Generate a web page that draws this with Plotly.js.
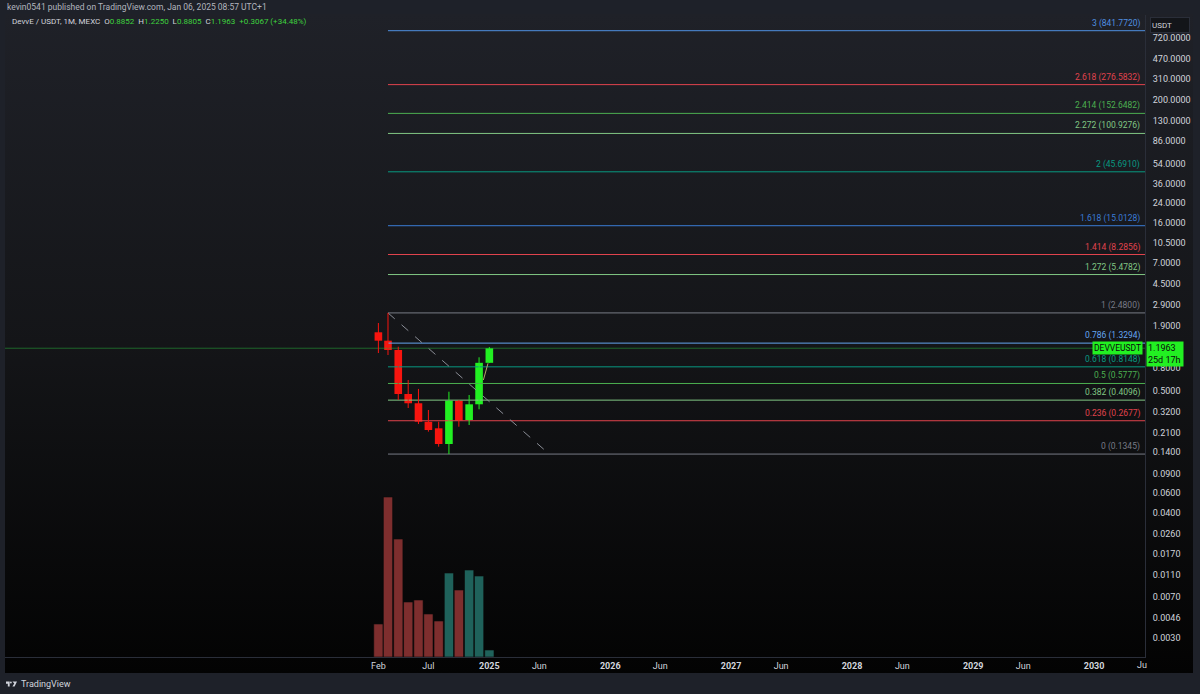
<!DOCTYPE html>
<html>
<head>
<meta charset="utf-8">
<script src="https://cdn.plot.ly/plotly-3.0.1.min.js"></script>
<style>html,body{margin:0;padding:0;background:#1e2129;}#chart{width:1200px;height:694px;}</style>
</head>
<body>
<div id="chart"></div>
<script>
// ---- data ----
const months = ['2024-02-01','2024-03-01','2024-04-01','2024-05-01','2024-06-01','2024-07-01','2024-08-01','2024-09-01','2024-10-01','2024-11-01','2024-12-01','2025-01-01'];
const openP  = [1.663, 1.398, 1.153, 0.465, 0.384, 0.262, 0.229, 0.1656, 0.405, 0.2718, 0.376, 0.8852];
const highP  = [2.014, 2.480, 1.235, 0.621, 0.516, 0.334, 0.2624, 0.4875, 0.411, 0.4554, 0.992, 1.2250];
const lowP   = [1.084, 1.040, 0.411, 0.348, 0.2503, 0.2136, 0.1566, 0.1345, 0.2367, 0.245, 0.339, 0.8805];
const closeP = [1.398, 1.153, 0.465, 0.384, 0.2624, 0.2212, 0.1656, 0.405, 0.268, 0.3758, 0.8852, 1.1963];
const volume = [33, 160, 118, 55, 57, 43, 36, 84, 67, 87, 81, 7];

const fibRatios = [3, 2.618, 2.414, 2.272, 2, 1.618, 1.414, 1.272, 1, 0.786, 0.618, 0.5, 0.382, 0.236, 0];
const fibPrices = [841.7720, 276.5832, 152.6482, 100.9276, 45.6910, 15.0128, 8.2856, 5.4782, 2.4800, 1.3294, 0.8148, 0.5777, 0.4096, 0.2677, 0.1345];
const fibColors = ['#4f8fe0','#e0434d','#4caf50','#81c784','#089981','#3a7bd5','#e0434d','#81c784','#787b86','#64a5f0','#089981','#4caf50','#81c784','#e0434d','#787b86'];
const fibStart = '2024-03-01';

const trendX = ['2024-03-01','2025-07-01'];
const trendY = [2.4800, 0.1345];
const smallLineX = ['2024-12-14','2024-12-28'];
const smallLineY = [0.621, 0.876];

const lastPrice = 1.1963;
const xRange = ['2020-12-30 14:00','2030-06-03 17:00'];
const yTickVals = [720,470,310,200,130,86,54,36,24,16,10.5,7,4.5,2.9,1.9,0.8,0.5,0.32,0.21,0.14,0.09,0.06,0.04,0.026,0.017,0.011,0.007,0.0046,0.003];
const yTickText = yTickVals.map(v => v.toFixed(4));
const xTickVals = ['2024-02-01','2024-07-01','2025-01-01','2025-06-01','2026-01-01','2026-06-01','2027-01-01','2027-06-01','2028-01-01','2028-06-01','2029-01-01','2029-06-01','2030-01-01'];
const xTickText = ['Feb','Jul','<b>2025</b>','Jun','<b>2026</b>','Jun','<b>2027</b>','Jun','<b>2028</b>','Jun','<b>2029</b>','Jun','<b>2030</b>'];

const RED = '#f7150f', GREEN = '#22f022';
const isUp = openP.map((o,i) => closeP[i] >= o);
const volColors = isUp.map(u => u ? '#1f625b' : '#7e2e2e');
const candleColors = isUp.map(u => u ? GREEN : RED);

// ---- traces ----
const traces = [];
fibPrices.forEach((p,i) => {
  traces.push({type:'scatter', mode:'lines', x:[fibStart, xRange[1]], y:[p,p],
    line:{color:fibColors[i], width:1}, hoverinfo:'skip', showlegend:false});
});
traces.push({type:'scatter', mode:'lines', x:xRange, y:[lastPrice,lastPrice],
  line:{color:'rgba(40,170,60,0.55)', width:1}, hoverinfo:'skip', showlegend:false});
traces.push({type:'scatter', mode:'lines', x:trendX, y:trendY,
  line:{color:'#8a8d96', width:1, dash:'dash'}, hoverinfo:'skip', showlegend:false});
traces.push({type:'scatter', mode:'lines', x:smallLineX, y:smallLineY,
  line:{color:'#b5a76a', width:1}, hoverinfo:'skip', showlegend:false});
// candle wicks (one trace per direction)
[true,false].forEach(up => {
  const wx = [], wy = [];
  months.forEach((m,i) => { if (isUp[i] === up) { wx.push(m, m, null); wy.push(lowP[i], highP[i], null); } });
  traces.push({type:'scatter', mode:'lines', x:wx, y:wy, connectgaps:false,
    line:{color: up ? GREEN : RED, width:1}, hoverinfo:'skip', showlegend:false});
});
// candle bodies
traces.push({type:'bar', x:months,
  base: openP.map((o,i) => Math.min(o, closeP[i])),
  y: openP.map((o,i) => Math.abs(closeP[i] - o)),
  width: 23*86400000,
  marker:{color:candleColors, line:{width:0}}, hoverinfo:'skip', showlegend:false});
// volume
traces.push({type:'bar', x:months, y:volume, yaxis:'y2', width:28*86400000,
  marker:{color:volColors, line:{color:'#0a0a0a', width:0.6}}, hoverinfo:'skip', showlegend:false});

// ---- annotations ----
const FONT = 'Roboto, "Liberation Sans", sans-serif';
const ann = [];
fibPrices.forEach((p,i) => {
  ann.push({xref:'paper', x:1, xanchor:'right', xshift:-3, yref:'y', y:Math.log10(p), yanchor:'bottom', yshift:0,
    text: fibRatios[i] + ' (' + p.toFixed(4) + ')', showarrow:false,
    font:{color:fibColors[i], size:8.5, family:FONT}});
});
ann.push({xref:'paper', x:1, xanchor:'right', xshift:-2, yref:'y', y:Math.log10(lastPrice), yanchor:'middle',
  text:'DEVVEUSDT', showarrow:false, bgcolor:GREEN, borderpad:1, font:{color:'#0b0b0b', size:8.5, family:FONT}});
ann.push({xref:'paper', x:1, xanchor:'left', xshift:1, yref:'y', y:Math.log10(lastPrice), yanchor:'top', yshift:7,
  text:lastPrice.toFixed(4)+'<br>25d 17h', align:'left', width:34, showarrow:false, bgcolor:GREEN, borderpad:1,
  font:{color:'#0b0b0b', size:9, family:FONT}});
ann.push({xref:'paper', x:(1150-5)/1140, xanchor:'left', yref:'paper', y:(657-24.5)/642, yanchor:'middle',
  text:'USDT', align:'left', width:36, height:12, showarrow:false, bgcolor:'#131519', bordercolor:'#2a2e39', borderwidth:1,
  font:{color:'#d1d4dc', size:8, family:FONT}});
ann.push({xref:'paper', x:0, xanchor:'left', yref:'paper', y:(657-7)/642, yanchor:'middle',
  text:'kevin0541 published on TradingView.com, Jan 06, 2025 08:57 UTC+1', showarrow:false,
  font:{color:'#b2b5be', size:8.5, family:FONT}});
const g = s => '<span style="color:#3ed13e">'+s+'</span>';
ann.push({xref:'paper', x:(10-5)/1140, xanchor:'left', yref:'paper', y:(657-22)/642, yanchor:'middle',
  text:'DevvE / USDT, 1M, MEXC  O'+g('0.8852')+'  H'+g('1.2250')+'  L'+g('0.8805')+'  C'+g('1.1963')+'  '+g('+0.3067 (+34.48%)'),
  showarrow:false, font:{color:'#d1d4dc', size:8, family:FONT}});
ann.push({xref:'paper', x:(19-5)/1140, xanchor:'left', yref:'paper', y:(657-684)/642, yanchor:'middle',
  text:'TradingView', showarrow:false, font:{color:'#d1d4dc', size:9, family:FONT}});
ann.push({xref:'x', x:'2030-06-01', xanchor:'center', yref:'paper', y:(657-665)/642, yanchor:'middle',
  text:'Ju', showarrow:false, xshift:-2, font:{color:'#d1d4dc', size:9, family:FONT}});

const gradSvg = "<svg xmlns='http://www.w3.org/2000/svg' viewBox='0 0 100 100' preserveAspectRatio='none' width='100' height='100'>" +
  "<defs><linearGradient id='g' x1='0' y1='0' x2='0' y2='1'><stop offset='0' stop-color='#1f2128'/><stop offset='0.5' stop-color='#141518'/><stop offset='1' stop-color='#030303'/></linearGradient></defs>" +
  "<rect x='0' y='0' width='100' height='100' fill='url(#g)'/></svg>";
const logoSvg = "<svg xmlns='http://www.w3.org/2000/svg' viewBox='0 0 36 20' width='36' height='20'>" +
  "<path d='M0 2 H12 V18 H6 V9 H0 Z' fill='#d1d4dc'/><circle cx='16' cy='5' r='3' fill='#d1d4dc'/>" +
  "<path d='M21 2 H36 L28 18 H21 L27 8 Z' fill='#d1d4dc'/></svg>";
const images = [
  {source:'data:image/svg+xml;charset=utf-8,'+encodeURIComponent(gradSvg), xref:'paper', yref:'paper',
   x:0, y:(657-14)/642, sizex:1188/1140, sizey:(673-14)/642, sizing:'stretch', xanchor:'left', yanchor:'top', layer:'below'},
  {source:'data:image/svg+xml;charset=utf-8,'+encodeURIComponent(logoSvg), xref:'paper', yref:'paper',
   x:(6-5)/1140, y:(657-681)/642, sizex:11/1140, sizey:6/642, sizing:'stretch', xanchor:'left', yanchor:'top', layer:'above'}
];

const layout = {
  width:1200, height:694,
  margin:{l:5, r:55, t:15, b:37},
  paper_bgcolor:'#1e2129', plot_bgcolor:'rgba(0,0,0,0)',
  font:{family:FONT, color:'#d1d4dc'},
  showlegend:false, dragmode:false, hovermode:false,
  barmode:'overlay',
  xaxis:{type:'date', range:xRange, tickvals:xTickVals, ticktext:xTickText, showgrid:false, zeroline:false,
    showline:true, linecolor:'#2a2e39', linewidth:1, ticks:'', tickfont:{size:9, color:'#d1d4dc'}, fixedrange:true},
  yaxis:{type:'log', side:'right', range:[-2.691, 3.066], tickvals:yTickVals, ticktext:yTickText,
    showgrid:false, zeroline:false, showline:true, linecolor:'#2a2e39', linewidth:1, ticks:'',
    ticklabelstandoff:5, tickfont:{size:9, color:'#d1d4dc'}, fixedrange:true},
  yaxis2:{overlaying:'y', side:'right', range:[0,642], visible:false, showgrid:false, zeroline:false, fixedrange:true},
  annotations:ann,
  images:images
};

Plotly.newPlot('chart', traces, layout, {displayModeBar:false, staticPlot:true});
</script>
</body>
</html>
